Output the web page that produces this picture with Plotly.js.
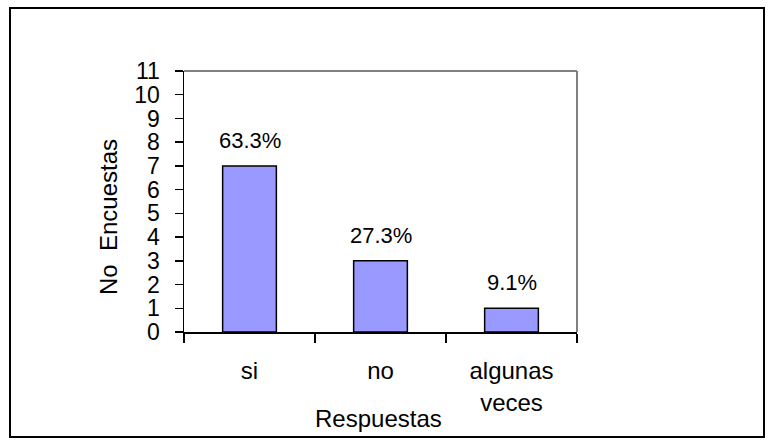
<!DOCTYPE html>
<html><head><meta charset="utf-8">
<script src="https://cdn.plot.ly/plotly-3.0.1.min.js"></script>
<style>body{margin:0;background:#fff}#chart{width:774px;height:442px}</style>
</head><body><div id="chart"></div>
<script>
const categories = ['si', 'no', 'algunas veces'];
const tickLabels = ['si', 'no', 'algunas<br>veces'];
const counts = [7, 3, 1];
const percentLabels = ['63.3%', '27.3%', '9.1%'];
const yTickValues = [0, 1, 2, 3, 4, 5, 6, 7, 8, 9, 10, 11];
const xTitle = 'Respuestas';
const yTitle = 'No  Encuestas';

const L = 184, R = 577, T = 71, B = 332;
const pw = R - L, ph = B - T;
const px = x => (x - L) / pw;
const py = y => (B - y) / ph;
const font = 'Liberation Sans, Arial, sans-serif';

const trace = {
  type: 'bar', x: categories, y: counts,
  marker: {color: '#9999ff', line: {color: '#000', width: 1.5}},
  hoverinfo: 'none'
};

const annotations = categories.map((c, i) => ({
  x: c, y: counts[i], xref: 'x', yref: 'y', text: percentLabels[i],
  showarrow: false, yanchor: 'bottom', yshift: 11,
  font: {family: font, size: 22, color: '#000'}
}));
annotations.push({
  x: px(378), y: py(418), xref: 'paper', yref: 'paper', text: xTitle,
  showarrow: false, xanchor: 'center', yanchor: 'middle',
  font: {family: font, size: 24, color: '#000'}
});
annotations.push({
  x: px(108), y: py(217), xref: 'paper', yref: 'paper', text: yTitle,
  showarrow: false, xanchor: 'center', yanchor: 'middle', textangle: -90,
  font: {family: font, size: 24, color: '#000'}
});

const layout = {
  width: 774, height: 442,
  margin: {l: L, r: 774 - R, t: T, b: 442 - B, pad: 0},
  paper_bgcolor: '#fff', plot_bgcolor: '#fff',
  showlegend: false, bargap: 0.59,
  font: {family: font, color: '#000'},
  xaxis: {
    type: 'category', range: [-0.5, 2.5],
    tickvals: categories, ticktext: tickLabels,
    showline: true, linecolor: '#000', linewidth: 1.5,
    ticks: 'outside', tickson: 'boundaries', ticklen: 9, tickwidth: 1.5, tickcolor: '#000',
    tickfont: {family: font, size: 24, color: '#000'}, ticklabelstandoff: 17,
    showgrid: false, zeroline: false, fixedrange: true
  },
  yaxis: {
    range: [0, 11], tickvals: yTickValues,
    showline: true, linecolor: '#000', linewidth: 1.5,
    ticks: 'outside', ticklen: 8, tickwidth: 1.5, tickcolor: '#000',
    tickfont: {family: font, size: 23, color: '#000'}, ticklabelstandoff: 10,
    showgrid: false, zeroline: false, fixedrange: true
  },
  shapes: [
    {type: 'rect', xref: 'paper', yref: 'paper', x0: px(10), x1: px(764), y0: py(437), y1: py(8),
     line: {color: '#000', width: 2}},
    {type: 'line', xref: 'paper', yref: 'paper', x0: 0, x1: 1, y0: 1, y1: 1,
     line: {color: '#808080', width: 2}},
    {type: 'line', xref: 'paper', yref: 'paper', x0: 1, x1: 1, y0: 0, y1: 1,
     line: {color: '#808080', width: 2}}
  ],
  annotations: annotations
};

Plotly.newPlot('chart', [trace], layout, {displayModeBar: false, staticPlot: true});
</script></body></html>
